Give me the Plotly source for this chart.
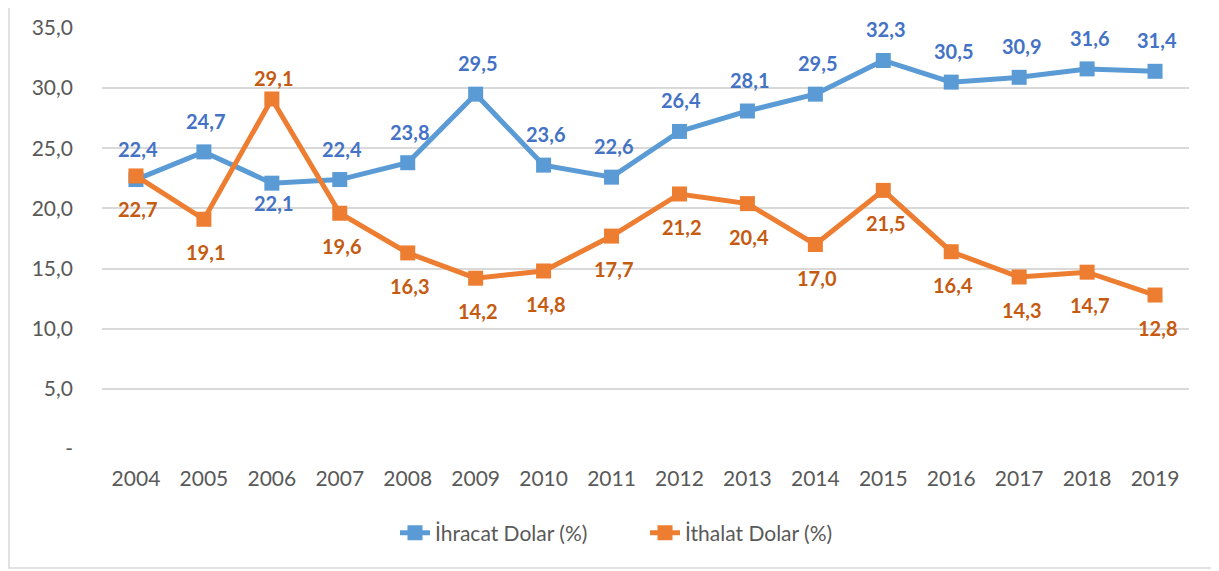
import plotly.graph_objects as go

years = ["2004", "2005", "2006", "2007", "2008", "2009", "2010", "2011",
         "2012", "2013", "2014", "2015", "2016", "2017", "2018", "2019"]
ihracat = [22.4, 24.7, 22.1, 22.4, 23.8, 29.5, 23.6, 22.6,
           26.4, 28.1, 29.5, 32.3, 30.5, 30.9, 31.6, 31.4]
ithalat = [22.7, 19.1, 29.1, 19.6, 16.3, 14.2, 14.8, 17.7,
           21.2, 20.4, 17.0, 21.5, 16.4, 14.3, 14.7, 12.8]
y_ticks = [0, 5, 10, 15, 20, 25, 30, 35]
y_ticktext = ["-", "5,0", "10,0", "15,0", "20,0", "25,0", "30,0", "35,0"]

FONT = "Lato"
BLUE, BLUE_TXT = "#5B9BD5", "#4472C4"
ORANGE, ORANGE_TXT = "#ED7D31", "#C55A11"

def fmt(v):
    return f"{v:.1f}".replace(".", ",")

fig = go.Figure()
fig.add_trace(go.Scatter(
    x=years, y=ihracat, name="İhracat Dolar (%)", mode="lines+markers",
    line=dict(color=BLUE, width=5),
    marker=dict(symbol="square", size=15, color=BLUE),
))
fig.add_trace(go.Scatter(
    x=years, y=ithalat, name="İthalat Dolar (%)", mode="lines+markers",
    line=dict(color=ORANGE, width=5),
    marker=dict(symbol="square", size=15, color=ORANGE),
))

# data labels: blue above, orange below; swapped where orange is clearly above blue
annotations = []
for i, (a, b) in enumerate(zip(ihracat, ithalat)):
    if b - a > 1:
        sa, sb = -20, 21
    else:
        sa, sb = 31, -33
    annotations.append(dict(x=i, y=a, xref="x", yref="y", text=fmt(a), showarrow=False,
                            yshift=sa, xshift=2,
                            font=dict(family=FONT, size=20, color=BLUE_TXT, weight="bold")))
    annotations.append(dict(x=i, y=b, xref="x", yref="y", text=fmt(b), showarrow=False,
                            yshift=sb, xshift=2,
                            font=dict(family=FONT, size=20, color=ORANGE_TXT, weight="bold")))

W, H = 1211, 563
L, R, T, B = 94, 30, 20, 122
pw, ph = W - L - R, H - T - B
fig.add_shape(type="rect", xref="paper", yref="paper",
              x0=(1 - L) / pw, x1=(1204 - L) / pw,
              y0=(H - B - 560) / ph, y1=(H - B + 40) / ph,
              line=dict(color="#D9D9D9", width=1.5), fillcolor="rgba(0,0,0,0)", layer="below")

fig.update_layout(
    width=W, height=H,
    margin=dict(l=L, r=R, t=T, b=B, autoexpand=False),
    paper_bgcolor="white", plot_bgcolor="white",
    font=dict(family=FONT, size=21, color="#595959"),
    showlegend=True,
    annotations=annotations,
    legend=dict(orientation="h", x=(387 - L) / pw, xanchor="left",
                y=(H - B - 525) / ph, yanchor="middle",
                font=dict(family=FONT, size=21, color="#595959"),
                entrywidth=205, entrywidthmode="pixels",
                tracegroupgap=0),
    xaxis=dict(type="category", range=[-0.5, len(years) - 0.5],
               showgrid=False, showline=False, ticks="",
               ticklabelstandoff=15, tickfont=dict(size=21)),
    yaxis=dict(range=[0, 35], tickvals=y_ticks, ticktext=y_ticktext,
               showgrid=True, gridcolor="#D9D9D9", gridwidth=1.5,
               zeroline=False, showline=False, ticks="",
               ticklabelstandoff=28, tickfont=dict(size=21)),
)

fig.write_html("out.html")
